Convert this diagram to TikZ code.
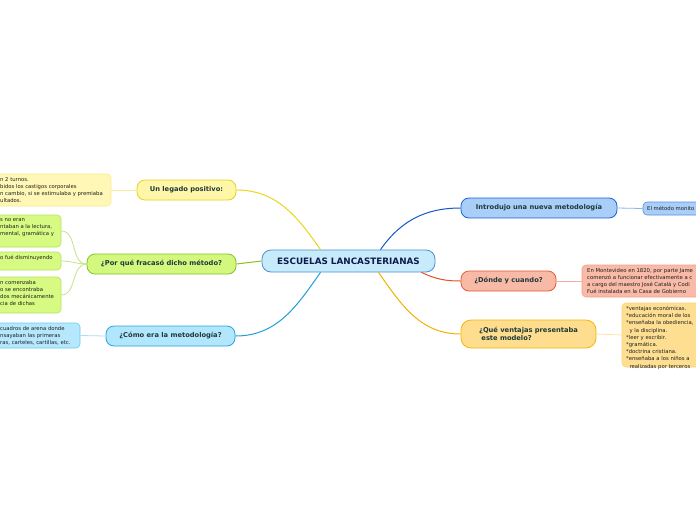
\documentclass[tikz,border=0pt]{standalone}
\usepackage{fontspec}
\setmainfont{DejaVu Sans}
\definecolor{cFill}{HTML}{C8EBFC}\definecolor{cBord}{HTML}{4A90D0}
\definecolor{yFill}{HTML}{FFF6A8}\definecolor{yBord}{HTML}{E6D21E}\definecolor{yLine}{HTML}{EAD61A}
\definecolor{ylFill}{HTML}{FFF7B5}\definecolor{ylBord}{HTML}{F7EC8E}\definecolor{ylLine}{HTML}{F5EC9C}
\definecolor{gFill}{HTML}{D4F77E}\definecolor{gBord}{HTML}{84C225}\definecolor{gLine}{HTML}{88C21E}
\definecolor{glFill}{HTML}{D7FA82}\definecolor{glBord}{HTML}{B8E265}\definecolor{glLine}{HTML}{C5E28A}
\definecolor{bFill}{HTML}{B2E6FC}\definecolor{bBord}{HTML}{22A6E2}\definecolor{bLine}{HTML}{1E9FD8}
\definecolor{blFill}{HTML}{B5E7FD}\definecolor{blBord}{HTML}{6CCCF4}\definecolor{blLine}{HTML}{A8DDF5}
\definecolor{iFill}{HTML}{A9CEF8}\definecolor{iBord}{HTML}{1A62D8}\definecolor{iLine}{HTML}{1556C8}
\definecolor{ilBord}{HTML}{5A90E0}\definecolor{ilLine}{HTML}{8BB5EE}
\definecolor{dFill}{HTML}{F8B9A7}\definecolor{dBord}{HTML}{E65A32}\definecolor{dLine}{HTML}{E6502A}
\definecolor{dlFill}{HTML}{F9BAA8}\definecolor{dlBord}{HTML}{F2A28C}\definecolor{dlLine}{HTML}{F4AE9C}
\definecolor{vFill}{HTML}{FEDD8E}\definecolor{vBord}{HTML}{F5B700}\definecolor{vLine}{HTML}{F2B200}
\definecolor{vlFill}{HTML}{FEDF92}\definecolor{vlBord}{HTML}{FDD27A}\definecolor{vlLine}{HTML}{FCE2A6}
\definecolor{mainText}{HTML}{1F3A3A}\definecolor{centText}{HTML}{0D1B4A}\definecolor{leafText}{HTML}{1E1E1E}
\begin{document}
\begin{tikzpicture}[x=1pt,y=-1pt,
  mainbox/.style={draw, line width=0.8pt, rounded corners=8pt, inner sep=0pt, align=center,
     font=\fontsize{6.7}{8.5}\selectfont\bfseries, text=mainText},
  leafbox/.style={draw, line width=0.6pt, rounded corners=4pt, inner sep=0pt},
  leaftext/.style={inner sep=0pt, align=left, font=\fontsize{5.3}{7.2}\selectfont, text=leafText},
  conn/.style={line width=1pt},
  leafconn/.style={line width=0.8pt}]
\useasboundingbox (0,0) rectangle (696,520);
\clip (0,0) rectangle (696,520);
\fill[white] (0,0) rectangle (696,520);

% leaves (boxes)
\node[leafbox, fill=ylFill, draw=ylBord, minimum width=151pt, minimum height=32pt] (leafY) at (35.5,190) {};
\node[leafbox, fill=glFill, draw=glBord, minimum width=101pt, minimum height=32pt] (leafGa) at (10.5,231) {};
\node[leafbox, fill=glFill, draw=glBord, minimum width=101pt, minimum height=18pt] (leafGb) at (10.5,261) {};
\node[leafbox, fill=glFill, draw=glBord, minimum width=101pt, minimum height=36pt] (leafGc) at (10.5,295) {};
\node[leafbox, fill=blFill, draw=blBord, minimum width=120pt, minimum height=25pt] (leafB) at (20,335.5) {};
\node[leafbox, fill=iFill, draw=ilBord, minimum width=117pt, minimum height=13pt] (leafI) at (701.5,208.5) {};
\node[leafbox, fill=dlFill, draw=dlBord, minimum width=178pt, minimum height=32pt] (leafD) at (671,281) {};
\node[leafbox, fill=vlFill, draw=vlBord, minimum width=138pt, minimum height=64pt] (leafV) at (691,335) {};

% leaf texts
\node[leaftext, anchor=north west] (tY) at (0,177) {n 2 turnos.\\bidos los castigos corporales\\n cambio, si se estimulaba y premiaba\\ultados.};
\node[leaftext, anchor=north west] (tGa) at (0,218) {s no eran\\ntaban a la lectura,\\mental, gramática y};
\node[leaftext, anchor=north west] (tGb) at (0,255) {o fué disminuyendo};
\node[leaftext, anchor=north west] (tGc) at (0,280) {n comenzaba\\o se encontraba\\dos mecánicamente\\cia de dichas};
\node[leaftext, anchor=north west] (tB) at (0,326) {cuadros de arena donde\\nsayaban las primeras\\ras, carteles, cartillas, etc.};
\node[leaftext, anchor=west] (tI) at (647,208.5) {El método monito};
\node[leaftext, anchor=north west] (tD) at (587,268) {En Montevideo en 1820, por parte Jame\\comenzó a funcionar efectivamente a c\\a cargo del maestro José Catalá y Codi\\Fué instalada en la Casa de Gobierno};
\node[leaftext, anchor=north west] (tV) at (626,306) {*ventajas económicas.\\*educación moral de los\\*enseñaba la obediencia,\\\ \ y la disciplina.\\*leer y escribir.\\*gramática.\\*doctrina cristiana.\\*enseñaba a los niños a\\\ \ realizadas por terceros};

% main nodes
\node[mainbox, fill=cFill, draw=cBord, rounded corners=9pt, minimum width=173pt, minimum height=22pt,
  text=centText, font=\fontsize{8.8}{10}\selectfont\bfseries] (center) at (348.5,261) {ESCUELAS LANCASTERIANAS};
\node[mainbox, fill=yFill, draw=yBord, minimum width=99pt, minimum height=20pt] (legado) at (186.5,190) {Un legado positivo:};
\node[mainbox, fill=gFill, draw=gBord, minimum width=149pt, minimum height=20pt] (fracaso) at (161.5,264) {¿Por qué fracasó dicho método?};
\node[mainbox, fill=bFill, draw=bBord, minimum width=129pt, minimum height=20pt] (como) at (170.5,336) {¿Cómo era la metodología?};
\node[mainbox, fill=iFill, draw=iBord, minimum width=156pt, minimum height=20pt] (intro) at (539,208) {Introdujo una nueva metodología};
\node[mainbox, fill=dFill, draw=dBord, minimum width=95pt, minimum height=20pt] (donde) at (508.5,281) {¿Dónde y cuando?};
\node[mainbox, fill=vFill, draw=vBord, rounded corners=10pt, minimum width=135pt, minimum height=28pt, align=left] (ventajas) at (528.5,334) {¿Qué ventajas presentaba\\\ este modelo?};

% connectors
\draw[conn, yLine] ([xshift=-28pt]center.north) to[out=125,in=0] (legado.east);
\draw[conn, gLine] (center.west) -- (fracaso.east);
\draw[conn, bLine] ([xshift=-28pt]center.south) to[out=-125,in=0] (como.east);
\draw[conn, iLine] ([xshift=32pt]center.north) to[out=55,in=180] (intro.west);
\draw[conn, dLine] ([xshift=-14pt]center.south east) to[out=-25,in=180] (donde.west);
\draw[conn, vLine] ([xshift=30pt]center.south) to[out=-55,in=180] (ventajas.west);
\draw[leafconn, ylLine] (legado.west) -- (leafY.east);
\draw[leafconn, glLine] (fracaso.west) to[out=180,in=0] (leafGa.east);
\draw[leafconn, glLine] (fracaso.west) to[out=180,in=0] (leafGb.east);
\draw[leafconn, glLine] (fracaso.west) to[out=180,in=0] (leafGc.east);
\draw[leafconn, blLine] (como.west) -- (leafB.east);
\draw[leafconn, ilLine] (intro.east) -- (leafI.west);
\draw[leafconn, dlLine] (donde.east) -- (leafD.west);
\draw[leafconn, vlLine] (ventajas.east) -- (leafV.west);
\end{tikzpicture}
\end{document}
